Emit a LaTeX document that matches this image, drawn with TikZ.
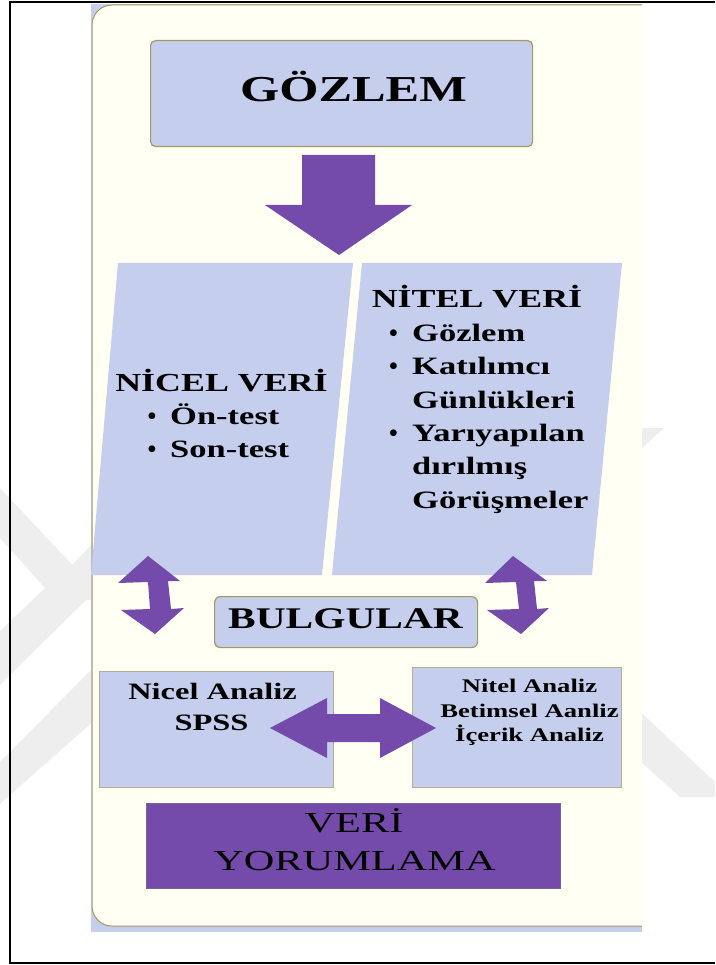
\documentclass[tikz,border=0pt]{standalone}
\usepackage{fontspec}
\setmainfont{Liberation Serif}[FakeStretch=1.38]
\newfontfamily\wideregular{Liberation Serif}[FakeStretch=1.46]
\newfontfamily\plainserif{Liberation Serif}
\definecolor{lav}{RGB}{198,206,238}
\definecolor{cream}{RGB}{255,255,243}
\definecolor{olive}{RGB}{160,154,96}
\definecolor{boxline}{RGB}{178,174,142}
\definecolor{purp}{RGB}{116,74,171}
\definecolor{purpline}{RGB}{120,100,140}
\definecolor{wm}{RGB}{238,238,238}
\begin{document}
\begin{tikzpicture}[x=1pt,y=-1pt,
  bx/.style={draw=olive, fill=lav, line width=1.2pt, inner sep=0pt},
  abox/.style={draw=boxline, fill=lav, line width=1.4pt, inner sep=0pt},
  txt/.style={inner sep=0pt, anchor=base},
  item/.style={inner sep=0pt, anchor=base west, font=\bfseries\fontsize{25}{30}\selectfont},
  dot/.style={inner sep=0pt, anchor=base, font=\plainserif\bfseries\fontsize{25}{30}\selectfont},
  blockarrow/.style={fill=purp}]
\useasboundingbox (0,0) rectangle (715,965);

% faint watermark chevrons in the margins
\fill[wm] (0,488) -- (96,590) -- (0,685) -- (0,631) -- (45,588) -- (0,538) -- cycle;
\fill[wm] (72,565) -- (100,536) -- (100,600) -- (82,600) -- cycle;
\fill[wm] (0,762) -- (95,666) -- (95,720) -- (0,804) -- cycle;
\fill[wm] (630,428) -- (664,428) -- (630,459) -- cycle;
\fill[wm] (630,702) -- (715,782) -- (715,797) -- (680,797) -- (630,752) -- cycle;

% page frame
\draw[line width=2pt] (715,2.2) -- (9.5,2.2) -- (9.5,963) -- (715,963);

% background panel
\fill[lav] (91,4) rectangle (642,932);
\begin{scope}
  \clip (80,0) rectangle (642,965);
  \filldraw[fill=cream, draw=olive, line width=1pt, rounded corners=20pt] (92,5) rectangle (700,926);
\end{scope}

% observation box and arrow
\node[bx, rounded corners=5pt, minimum width=382pt, minimum height=106pt, anchor=north west] (gozlem) at (150,40) {};
\node[txt, font=\bfseries\fontsize{36.5}{40}\selectfont] (gozlemtxt) at (353.5,102) {GÖZLEM};
\fill[blockarrow] (302,155) -- (375,155) -- (375,205) -- (412,205) -- (339,255) -- (265,205) -- (302,205) -- cycle;

% data panels
\fill[lav] (118,263) -- (353,263) -- (322,575) -- (91,575) -- cycle;
\fill[lav] (362,263) -- (622,263) -- (592,575) -- (332,575) -- cycle;

\node[txt, font=\bfseries\fontsize{26}{30}\selectfont] (nicel) at (221.5,391) {NİCEL VERİ};
\node[dot] (d1) at (152,424) {•};
\node[item] (ontest) at (170,424) {Ön-test};
\node[dot] (d2) at (152,457) {•};
\node[item] (sontest) at (170,457) {Son-test};

\node[txt, font=\bfseries\fontsize{26}{30}\selectfont] (nitel) at (477,307) {NİTEL VERİ};
\node[dot] (d3) at (393.5,341) {•};
\node[item] (i1) at (412,341) {Gözlem};
\node[dot] (d4) at (393.5,374.5) {•};
\node[item] (i2) at (412,374.5) {Katılımcı};
\node[item] (i3) at (412,408) {Günlükleri};
\node[dot] (d5) at (393.5,441) {•};
\node[item] (i4) at (412,441) {Yarıyapılan};
\node[item] (i5) at (412,474.5) {dırılmış};
\node[item] (i6) at (412,508) {Görüşmeler};

% vertical double arrows
\fill[blockarrow] (148,556) -- (180,581) -- (168,581) -- (171,609) -- (184,608) -- (155,634) -- (121,610) -- (150,609) -- (148,582) -- (118,583) -- cycle;
\fill[blockarrow] (513,556) -- (547,581) -- (534,581) -- (537,609) -- (549,608) -- (521,634) -- (487,610) -- (519,609) -- (516,582) -- (485,583) -- cycle;

% findings
\node[bx, rounded corners=6pt, minimum width=263pt, minimum height=51pt, anchor=north west] (bulgular) at (214,596) {};
\node[txt, font=\bfseries\fontsize{30}{34}\selectfont] (bulgulartxt) at (345.5,628) {BULGULAR};

% analysis boxes
\node[abox, minimum width=234pt, minimum height=116pt, anchor=north west] (nicelan) at (98.5,671) {};
\node[abox, minimum width=209pt, minimum height=120pt, anchor=north west] (nitelan) at (412,667) {};
\node[txt, font=\bfseries\fontsize{23.5}{28}\selectfont] (na1) at (212.5,699) {Nicel Analiz};
\node[txt, font=\bfseries\fontsize{23.5}{28}\selectfont] (na2) at (211.5,730) {SPSS};
\node[txt, font=\bfseries\fontsize{19.3}{24}\selectfont] (ta1) at (529.5,692) {Nitel Analiz};
\node[txt, font=\bfseries\fontsize{19.3}{24}\selectfont] (ta2) at (529.5,717) {Betimsel Aanliz};
\node[txt, font=\bfseries\fontsize{19.3}{24}\selectfont] (ta3) at (529.5,741) {İçerik Analiz};

% horizontal double arrow between the analyses
\fill[blockarrow] (270,728) -- (327,698) -- (327,714) -- (380,714) -- (380,698) -- (436,728) -- (380,758) -- (380,742) -- (327,742) -- (327,758) -- cycle;

% interpretation
\node[draw=purpline, fill=purp, line width=0.8pt, inner sep=0pt, minimum width=414pt, minimum height=85pt, anchor=north west] (yorum) at (146,803) {};
\node[txt, font=\wideregular\fontsize{29}{33}\selectfont] (yorum1) at (354,832) {VERİ};
\node[txt, font=\wideregular\fontsize{29}{33}\selectfont] (yorum2) at (354.5,870) {YORUMLAMA};
\end{tikzpicture}
\end{document}
